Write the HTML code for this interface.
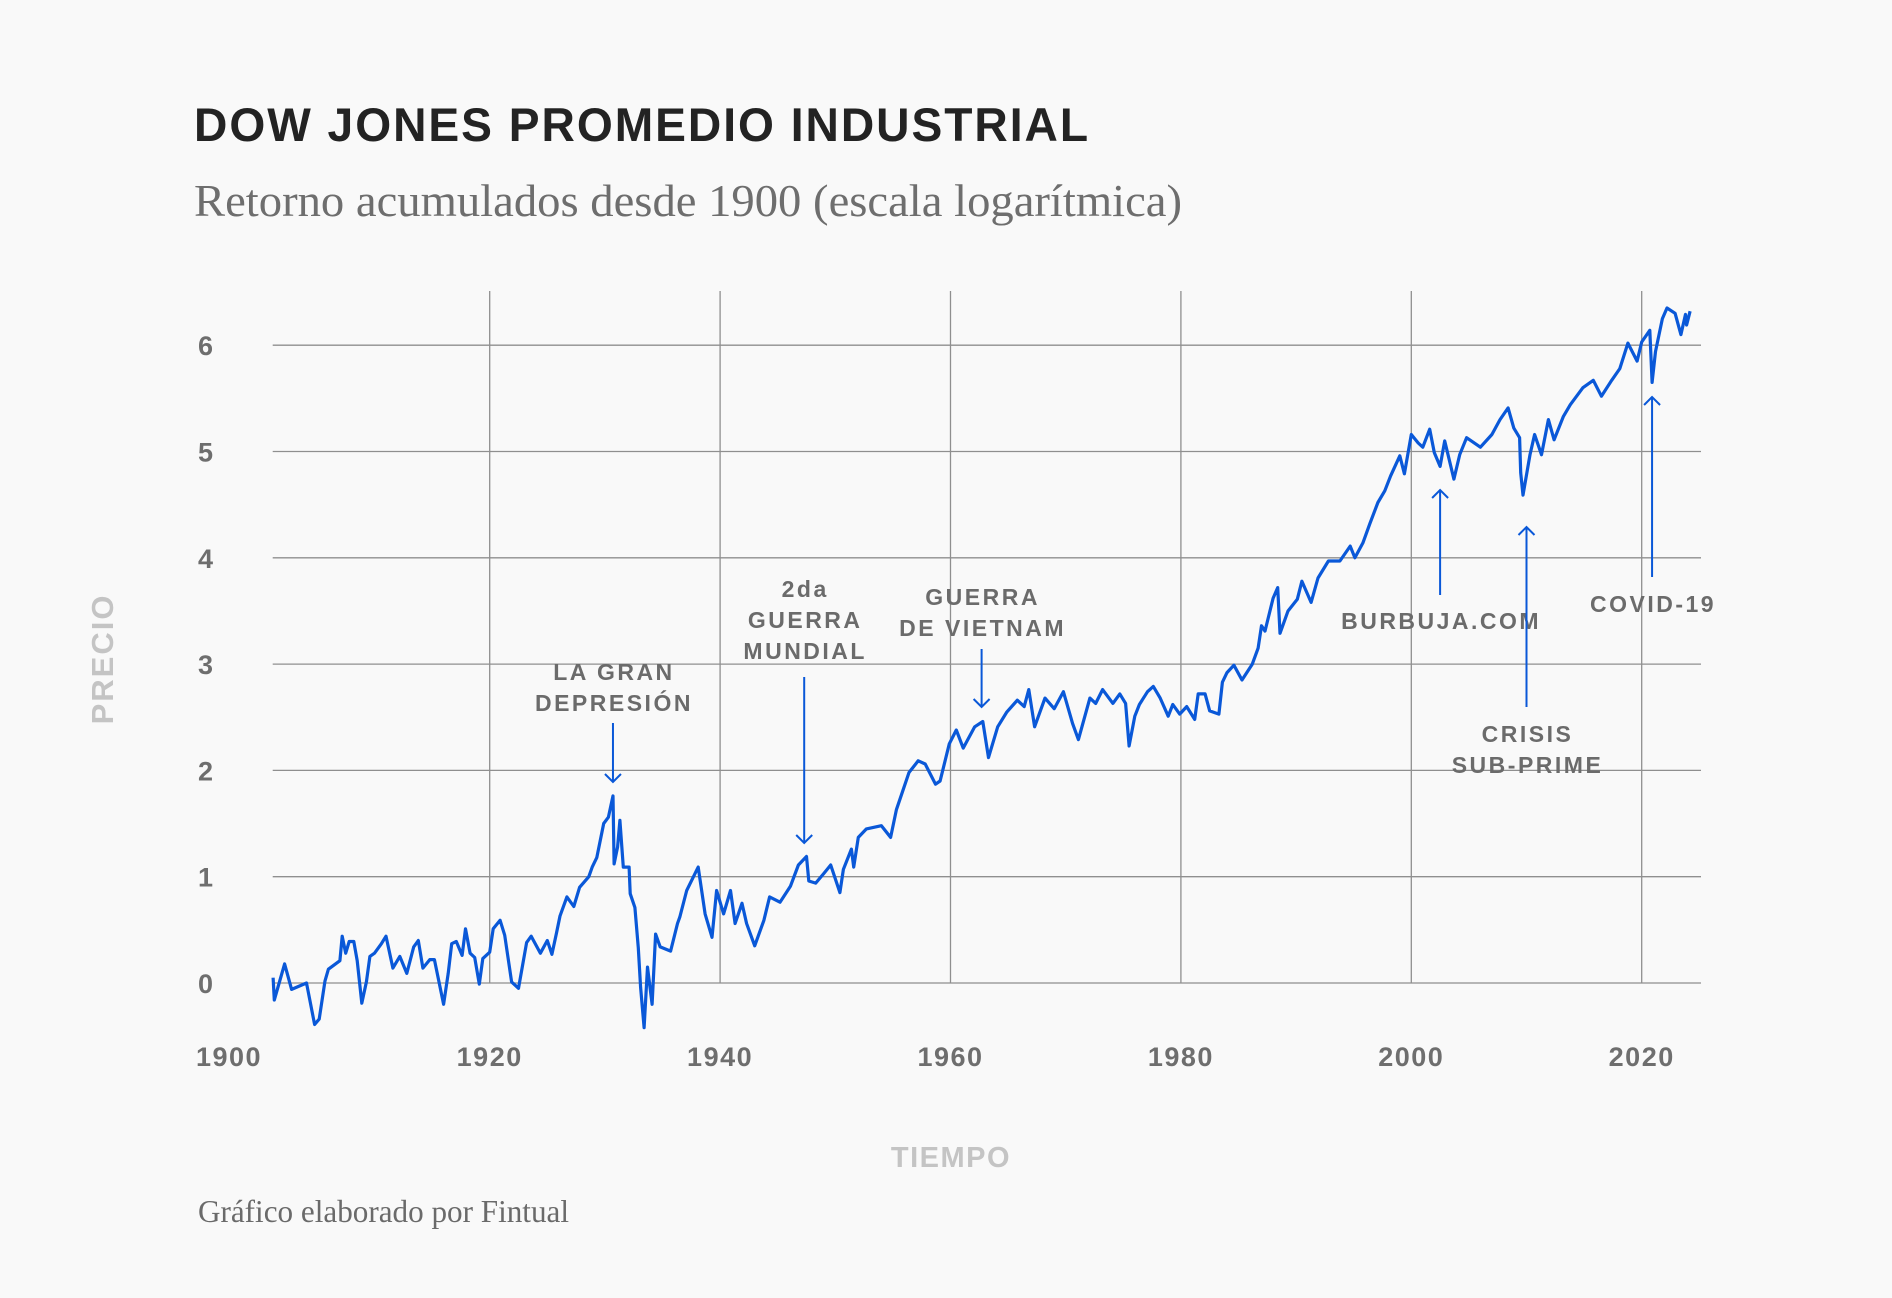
<!DOCTYPE html>
<html><head><meta charset="utf-8"><style>
html,body{margin:0;padding:0;background:#f9f9f9;}
svg{display:block;}
.ann{font-family:"Liberation Sans",sans-serif;font-weight:bold;font-size:23px;fill:#6b6b6b;letter-spacing:2.5px;text-anchor:middle;}
.tick{font-family:"Liberation Sans",sans-serif;font-weight:bold;font-size:27px;fill:#6e6e6e;letter-spacing:1.5px;}
</style></head><body>
<svg id="chart" width="1892" height="1298" viewBox="0 0 1892 1298" xmlns="http://www.w3.org/2000/svg">
<rect x="0" y="0" width="1892" height="1298" fill="#f9f9f9"/>
<text x="194" y="141" font-family="Liberation Sans, sans-serif" font-weight="bold" font-size="47" fill="#232323" letter-spacing="2" textLength="896" lengthAdjust="spacingAndGlyphs">DOW JONES PROMEDIO INDUSTRIAL</text>
<text x="194" y="216" font-family="Liberation Serif, serif" font-size="46" fill="#6e6e6e" textLength="988" lengthAdjust="spacingAndGlyphs">Retorno acumulados desde 1900 (escala logarítmica)</text>
<g id="grid"></g>
<g id="ticks"></g>
<path id="series" fill="none" stroke="#0a58d8" stroke-width="3.2" stroke-linejoin="round"/>
<g id="annotations"></g>
<text x="0" y="0" transform="translate(113,659) rotate(-90)" text-anchor="middle" font-family="Liberation Sans, sans-serif" font-weight="bold" font-size="31" fill="#c4c4c4" letter-spacing="2">PRECIO</text>
<text x="951" y="1167" text-anchor="middle" font-family="Liberation Sans, sans-serif" font-weight="bold" font-size="29" fill="#c4c4c4" letter-spacing="1.5">TIEMPO</text>
<text x="198" y="1222" font-family="Liberation Serif, serif" font-size="32" fill="#6a6a6a" textLength="371" lengthAdjust="spacingAndGlyphs">Gráfico elaborado por Fintual</text>
</svg>
<script>
const years = [1901.2,1901.3,1902.2,1902.8,1904.1,1904.8,1905.2,1905.7,1906.0,1907.0,1907.2,1907.5,1907.8,1908.2,1908.5,1908.9,1909.3,1909.6,1910.0,1910.6,1911.0,1911.6,1912.2,1912.8,1913.4,1913.8,1914.2,1914.8,1915.2,1916.0,1916.4,1916.7,1917.1,1917.6,1917.9,1918.3,1918.7,1919.1,1919.4,1920.0,1920.3,1920.9,1921.3,1921.9,1922.5,1923.2,1923.6,1924.4,1925.0,1925.4,1925.8,1926.1,1926.7,1927.3,1927.8,1928.6,1928.9,1929.3,1929.9,1930.3,1930.7,1930.8,1931.1,1931.3,1931.6,1932.1,1932.2,1932.6,1932.9,1933.1,1933.4,1933.7,1934.1,1934.4,1934.8,1935.7,1936.3,1936.5,1937.1,1938.1,1938.7,1939.3,1939.7,1940.3,1940.9,1941.3,1941.9,1942.3,1943.0,1943.8,1944.3,1945.2,1946.1,1946.8,1947.5,1947.7,1948.3,1949.0,1949.6,1950.4,1950.7,1951.4,1951.6,1952.0,1952.7,1954.0,1954.8,1955.3,1956.4,1957.2,1957.8,1958.7,1959.1,1959.9,1960.5,1961.1,1962.1,1962.8,1963.3,1964.1,1964.9,1965.8,1966.4,1966.8,1967.3,1968.2,1969.0,1969.8,1970.6,1971.1,1972.1,1972.6,1973.2,1974.1,1974.7,1975.2,1975.5,1976.0,1976.4,1977.1,1977.6,1978.2,1978.9,1979.3,1979.9,1980.5,1981.2,1981.5,1982.1,1982.5,1983.3,1983.6,1984.0,1984.6,1985.3,1986.2,1986.7,1987.0,1987.3,1988.0,1988.4,1988.6,1989.3,1990.1,1990.5,1991.3,1991.9,1992.8,1993.8,1994.7,1995.1,1995.8,1996.4,1997.1,1997.7,1998.2,1999.0,1999.4,2000.0,2000.6,2001.0,2001.6,2002.0,2002.5,2002.9,2003.7,2004.2,2004.8,2006.0,2007.0,2007.7,2008.4,2008.9,2009.4,2009.5,2009.7,2010.3,2010.7,2011.3,2011.9,2012.4,2013.2,2013.8,2014.9,2015.8,2016.5,2017.4,2018.1,2018.8,2019.6,2020.0,2020.7,2020.9,2021.2,2021.8,2022.2,2022.9,2023.4,2023.8,2023.9,2024.2];
const values = [0.05,-0.16,0.18,-0.06,0.0,-0.39,-0.34,0.02,0.13,0.21,0.44,0.28,0.39,0.39,0.21,-0.19,0.01,0.25,0.28,0.37,0.44,0.14,0.25,0.09,0.34,0.40,0.14,0.22,0.22,-0.20,0.09,0.37,0.39,0.26,0.51,0.28,0.24,-0.01,0.23,0.29,0.51,0.59,0.45,0.01,-0.05,0.38,0.44,0.28,0.40,0.27,0.47,0.63,0.81,0.72,0.90,1.00,1.09,1.18,1.50,1.56,1.76,1.12,1.28,1.53,1.09,1.09,0.84,0.71,0.33,-0.04,-0.42,0.15,-0.20,0.46,0.34,0.30,0.56,0.62,0.87,1.09,0.65,0.43,0.87,0.65,0.87,0.56,0.75,0.56,0.35,0.59,0.81,0.76,0.91,1.11,1.19,0.96,0.94,1.03,1.11,0.85,1.07,1.26,1.09,1.37,1.45,1.48,1.37,1.63,1.98,2.09,2.06,1.87,1.90,2.25,2.38,2.21,2.41,2.46,2.12,2.41,2.55,2.66,2.60,2.76,2.41,2.68,2.58,2.74,2.44,2.29,2.68,2.63,2.76,2.63,2.72,2.63,2.23,2.51,2.62,2.74,2.79,2.68,2.51,2.62,2.53,2.60,2.48,2.72,2.72,2.56,2.53,2.83,2.92,2.99,2.85,3.00,3.15,3.36,3.31,3.62,3.72,3.29,3.50,3.61,3.78,3.58,3.81,3.97,3.97,4.11,4.00,4.14,4.32,4.52,4.63,4.77,4.96,4.79,5.16,5.08,5.04,5.21,4.99,4.86,5.10,4.74,4.97,5.13,5.04,5.16,5.30,5.41,5.22,5.13,4.80,4.59,4.97,5.16,4.97,5.30,5.11,5.33,5.44,5.60,5.67,5.52,5.67,5.78,6.02,5.85,6.03,6.14,5.65,5.94,6.25,6.35,6.30,6.10,6.29,6.19,6.32];
const yTicks = [0,1,2,3,4,5,6];
const xTicks = [1900,1920,1940,1960,1980,2000,2020];
const annLabels = [["LA GRAN","DEPRESIÓN"],["2da","GUERRA","MUNDIAL"],["GUERRA","DE VIETNAM"],["BURBUJA.COM"],["CRISIS","SUB-PRIME"],["COVID-19"]];
const annYears = [1930.7,1947.3,1962.7,2002.5,2010.0,2020.9];

const NS = "http://www.w3.org/2000/svg";
const X0 = 272.7, X1 = 1701;
function xScale(yr){ return 259.3 + (yr - 1900) * 11.52; }
function yScale(v){ return 983 - v * 106.3; }
function mk(tag, attrs, parent){ const e = document.createElementNS(NS, tag); for (const k in attrs) e.setAttribute(k, attrs[k]); parent.appendChild(e); return e; }

const grid = document.getElementById('grid');
const ticks = document.getElementById('ticks');
yTicks.forEach(v => {
  const l = mk('line', {x1:X0, x2:X1, y1:yScale(v), y2:yScale(v), stroke:'#8f8f8f', 'stroke-width':1.3}, grid);
  
  
  const t = mk('text', {x:198, y:yScale(v)+10, class:'tick'}, ticks);
  t.textContent = String(v);
  
  
});
xTicks.forEach((yr, i) => {
  if (i > 0) {
    const l = mk('line', {x1:xScale(yr), x2:xScale(yr), y1:291, y2:yScale(0), stroke:'#8f8f8f', 'stroke-width':1.3}, grid);
    
    
  }
  const cx = i === 0 ? 229 : xScale(yr);
  const t = mk('text', {x:cx, y:1066, class:'tick', 'text-anchor':'middle'}, ticks);
  t.textContent = String(yr);
  
  
});

let d = '';
years.forEach((yr, i) => { d += (i ? 'L' : 'M') + xScale(yr).toFixed(1) + ',' + yScale(values[i]).toFixed(1); });
document.getElementById('series').setAttribute('d', d);

const annLayout = [[680,723,782],[597,677,843],[605,649,707],[629,595,490],[742,707,527],[612,577,397]];
const annG = document.getElementById('annotations');
annLabels.forEach((lines, i) => {
  const x = xScale(annYears[i]);
  const g = mk('g', {}, annG);
  
  
  const [ty, a0, a1] = annLayout[i];
  mk('line', {x1:x, x2:x, y1:a0, y2:a1, stroke:'#0a58d8', 'stroke-width':2}, g);
  const dir = a1 > a0 ? -1 : 1;
  mk('path', {d:`M${x-8},${a1+dir*8} L${x},${a1} L${x+8},${a1+dir*8}`, fill:'none', stroke:'#0a58d8', 'stroke-width':2}, g);
  lines.forEach((s, j) => {
    const t = mk('text', {x:x+1, y:ty + j*31, class:'ann'}, g);
    t.textContent = s;
    
    
  });
});
</script>
</body></html>
